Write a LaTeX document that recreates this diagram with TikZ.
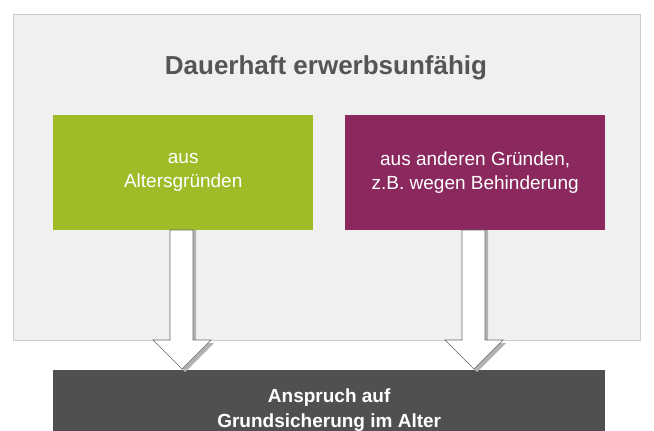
\documentclass[tikz,border=0pt]{standalone}
\usepackage{fontspec}
\setmainfont{Liberation Sans}
\usetikzlibrary{positioning}
\definecolor{panelgrey}{RGB}{240,240,240}
\definecolor{titlegrey}{RGB}{85,85,85}
\definecolor{boxgreen}{RGB}{160,187,40}
\definecolor{boxpurple}{RGB}{139,40,94}
\definecolor{boxdark}{RGB}{80,80,80}
\begin{document}
\begin{tikzpicture}[x=1pt, y=-1pt,
  box/.style={minimum width=260pt, minimum height=115pt, inner sep=0pt, text=white,
    align=center, font=\fontsize{19}{24}\selectfont},
  blockarrow/.style={fill=white, draw=gray!80!black, line width=0.6pt}]
	\useasboundingbox (0,0) rectangle (654,431);
	\clip (0,0) rectangle (654,431);
	% grauer Hintergrund
	\fill [panelgrey] (13,14) rectangle (640,340);
	\draw [gray!40] (13,14) rectangle (640,340);
	\node (title) at (326,68) {\fontsize{26}{30}\selectfont\bfseries\color{titlegrey}Dauerhaft erwerbsunfähig};
	
	% Kästen
	\node [box, fill=boxgreen, anchor=north west] (alter) at (53,115) {aus\\Altersgründen};
	\node [box, fill=boxpurple, anchor=north west] (andere) at (345,115) {aus anderen Gründen,\\z.B. wegen Behinderung};
	\node [box, fill=boxdark, minimum width=552pt, minimum height=80pt, anchor=north west, font=\fontsize{19}{25}\selectfont\bfseries] (anspruch) at (53,370) {Anspruch auf\\Grundsicherung im Alter};
	
	% Pfeile
	\foreach \src/\cx in {alter/182, andere/474}{
		\fill [gray!60] (\cx-9,230) -- (\cx+14,230) -- (\cx+14,343) -- (\cx+32,343) -- (\cx+3,372) -- (\cx-24,343) -- (\cx-9,343) -- cycle;
		\draw [blockarrow] (\cx-12,230) -- (\cx+11,230) -- (\cx+11,340) -- (\cx+29,340) -- (\cx,369) -- (\cx-29,340) -- (\cx-12,340) -- cycle;
	}
\end{tikzpicture}
\end{document}
